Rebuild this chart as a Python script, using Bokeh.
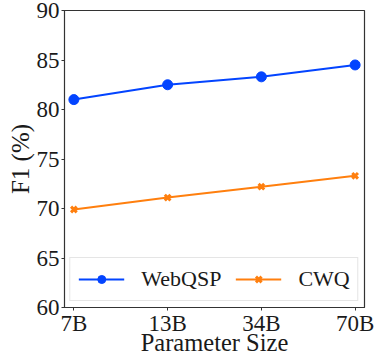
from bokeh.plotting import figure
from bokeh.models import Range1d, FixedTicker, Legend, LegendItem
from bokeh.embed import file_html
from bokeh.resources import INLINE

categories = ["7B", "13B", "34B", "70B"]
webqsp = [81.0, 82.5, 83.3, 84.5]
cwq = [69.9, 71.1, 72.2, 73.3]
y_ticks = [60, 65, 70, 75, 80, 85, 90]
x_title = "Parameter Size"
y_title = "F1 (%)"

xs = list(range(len(categories)))
FONT = "Liberation Serif"
TXT = "#1a1a1a"

p = figure(width=374, height=358, output_backend="svg", toolbar_location=None,
           x_range=Range1d(-0.1, 3.1), y_range=Range1d(60, 90),
           min_border_left=64, min_border_right=10, min_border_top=10, min_border_bottom=50)
p.grid.visible = False
p.outline_line_color = "#333333"
p.outline_line_width = 1.2

blue = "#0344ff"
orange = "#ff7f0e"
l1 = p.line(xs, webqsp, color=blue, line_width=2)
m1 = p.scatter(xs, webqsp, marker="circle", size=10, color=blue)
l2 = p.line(xs, cwq, color=orange, line_width=2)
m2 = p.scatter(xs, cwq, marker="x", size=8, line_color=orange, line_width=3)

p.xaxis.ticker = FixedTicker(ticks=xs)
p.xaxis.major_label_overrides = {i: c for i, c in enumerate(categories)}
p.yaxis.ticker = FixedTicker(ticks=y_ticks)
for ax in (p.xaxis[0], p.yaxis[0]):
    ax.major_label_text_font = FONT
    ax.major_label_text_font_size = "23px"
    ax.major_label_text_color = TXT
    ax.axis_label_text_font = FONT
    ax.axis_label_text_font_style = "normal"
    ax.axis_label_text_color = TXT
    ax.axis_line_color = "#333333"
    ax.major_tick_line_color = "#333333"
    ax.major_tick_out = 3
    ax.major_tick_in = 0
    ax.minor_tick_line_color = None
p.xaxis.axis_label = x_title
p.yaxis.axis_label = y_title
p.xaxis.axis_label_text_font_size = "24.5px"
p.yaxis.axis_label_text_font_size = "25px"
p.xaxis.major_label_standoff = 0
p.xaxis.axis_label_standoff = -10
p.yaxis.major_label_standoff = 2
p.yaxis.axis_label_standoff = 0

legend = Legend(items=[LegendItem(label="WebQSP", renderers=[l1, m1]),
                       LegendItem(label="CWQ", renderers=[l2, m2])],
                orientation="horizontal", location="bottom_center",
                label_text_font=FONT, label_text_font_size="22px",
                label_text_color=TXT,
                glyph_width=46, glyph_height=20, label_standoff=17, spacing=14,
                padding=8, margin=6,
                border_line_color="#cccccc", border_line_width=1.2,
                background_fill_alpha=0.8)
p.add_layout(legend)

open("out.html", "w").write(file_html(p, INLINE))
